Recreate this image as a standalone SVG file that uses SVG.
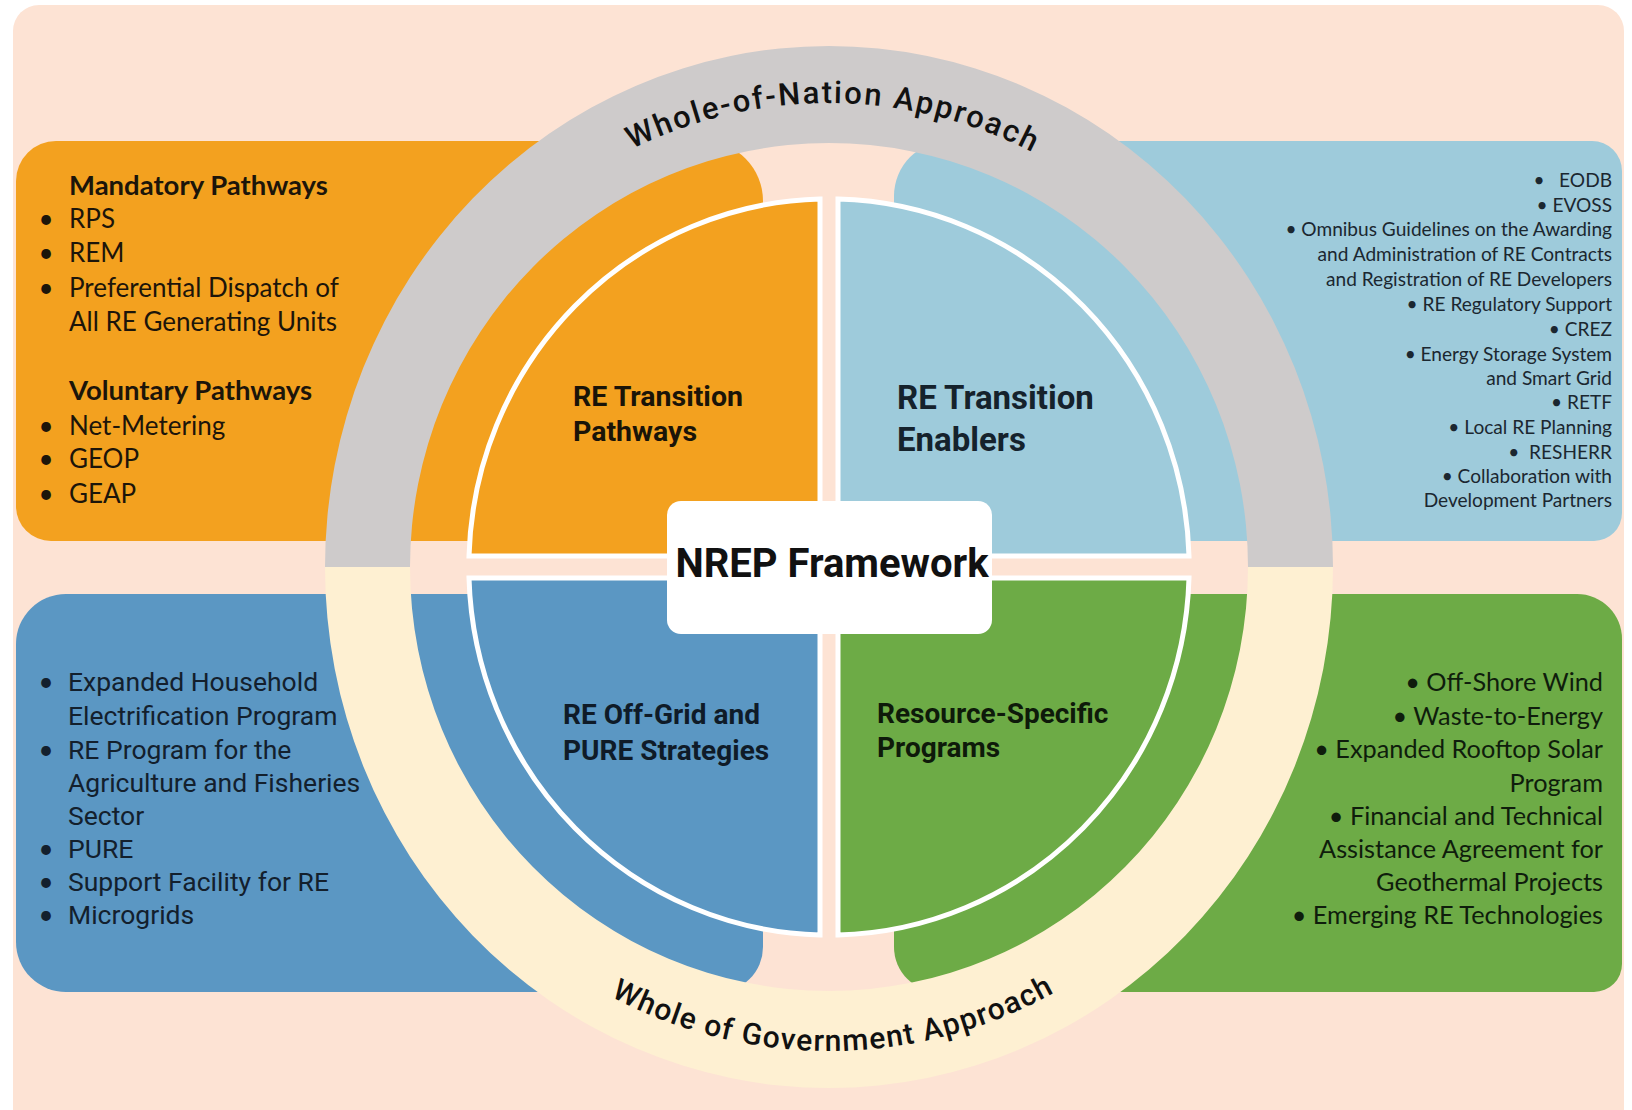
<svg xmlns="http://www.w3.org/2000/svg" width="1632" height="1110" viewBox="0 0 1632 1110">
<defs>
<style>
.bg{fill:#fde3d4}
.or{fill:#f3a11f}
.lb{fill:#9ecbdb}
.bl{fill:#5b97c3}
.gr{fill:#6dab46}
.q{stroke:#ffffff;stroke-width:5;stroke-linejoin:miter}
.ql{font-family:Roboto,"Liberation Sans",sans-serif;font-weight:700}
.ring{font-family:Roboto,"Liberation Sans",sans-serif;font-weight:500;fill:#111111}
.cal{font-family:Lato,"Liberation Sans",sans-serif}
.rob{font-family:Roboto,"Liberation Sans",sans-serif}
.bul{font-family:Lato,"Liberation Sans",sans-serif}
</style>
<path id="topArc" d="M376,567 A453,464 0 0 1 1282,567"/>
<path id="botArc" d="M356,567 A473,484 0 0 0 1302,567"/>
</defs>
<rect x="0" y="0" width="1632" height="1110" fill="#ffffff"/>
<rect class="bg" x="13" y="5" width="1611" height="1140" rx="26"/>

<g id="panel-pathways-list">
<path class="or" d="M56,141 H703 A60,60 0 0 1 763,201 V541 H51 A35,35 0 0 1 16,506 V181 A40,40 0 0 1 56,141 Z"/>
</g>
<g id="panel-enablers-list">
<path class="lb" d="M949,141 H1592 A30,30 0 0 1 1622,171 V513 A28,28 0 0 1 1594,541 H894 V196 A55,55 0 0 1 949,141 Z"/>
</g>
<g id="panel-offgrid-list">
<path class="bl" d="M66,594 H763 V947 A45,45 0 0 1 718,992 H66 A50,50 0 0 1 16,942 V644 A50,50 0 0 1 66,594 Z"/>
</g>
<g id="panel-resource-list">
<path class="gr" d="M894,594 H1577 A45,45 0 0 1 1622,639 V964 A28,28 0 0 1 1594,992 H939 A45,45 0 0 1 894,947 Z"/>
</g>

<g id="ring-nation">
<path fill="#cecbcb" d="M325,567 A504,521 0 0 1 1333,567 L1248,567 A419,424 0 0 0 410,567 Z"/>
<text class="ring" font-size="31" letter-spacing="2"><textPath href="#topArc" startOffset="50.3%" text-anchor="middle">Whole-of-Nation Approach</textPath></text>
</g>
<g id="ring-government">
<path fill="#fef0d2" d="M325,567 A504,521 0 0 0 1333,567 L1248,567 A419,424 0 0 1 410,567 Z"/>
<text class="ring" font-size="30" letter-spacing="1.3"><textPath href="#botArc" startOffset="50.3%" text-anchor="middle">Whole of Government Approach</textPath></text>
</g>

<g id="q-pathways">
<path class="or q" d="M820,556 V199 A360,368 0 0 0 469,556 Z"/>
<text class="ql" font-size="28.5" fill="#1a1408"><tspan x="573" y="406">RE Transition</tspan><tspan x="573" y="441">Pathways</tspan></text>
</g>
<g id="q-enablers">
<path class="lb q" d="M838,556 V199 A360,368 0 0 1 1189,556 Z"/>
<text class="ql" font-size="33" fill="#15222c"><tspan x="897" y="409">RE Transition</tspan><tspan x="897" y="451">Enablers</tspan></text>
</g>
<g id="q-offgrid">
<path class="bl q" d="M820,578 V935 A360,368 0 0 1 469,578 Z"/>
<text class="ql" font-size="28" fill="#0f1b28"><tspan x="563" y="724">RE Off-Grid and</tspan><tspan x="563" y="760">PURE Strategies</tspan></text>
</g>
<g id="q-resource">
<path class="gr q" d="M838,578 V935 A360,368 0 0 0 1189,578 Z"/>
<text class="ql" font-size="28" fill="#0e1a0a"><tspan x="877" y="723">Resource-Specific</tspan><tspan x="877" y="757">Programs</tspan></text>
</g>

<g id="center-nrep">
<rect x="667" y="501" width="325" height="133" rx="14" fill="#ffffff"/>
<text class="ql" font-size="40" fill="#111111" x="832" y="577" text-anchor="middle">NREP Framework</text>
</g>

<g id="text-pathways-list" class="cal" font-size="26" fill="#1c150a">
<text x="69" y="195" font-weight="700" font-size="27.5">Mandatory Pathways</text>
<text x="46" y="228" text-anchor="middle">•</text><text x="69" y="228">RPS</text>
<text x="46" y="262" text-anchor="middle">•</text><text x="69" y="262">REM</text>
<text x="46" y="297" text-anchor="middle">•</text><text x="69" y="297">Preferential Dispatch of</text>
<text x="69" y="331">All RE Generating Units</text>
<text x="69" y="400" font-weight="700" font-size="27.5">Voluntary Pathways</text>
<text x="46" y="435" text-anchor="middle">•</text><text x="69" y="435">Net-Metering</text>
<text x="46" y="468" text-anchor="middle">•</text><text x="69" y="468">GEOP</text>
<text x="46" y="503" text-anchor="middle">•</text><text x="69" y="503">GEAP</text>
</g>

<g id="text-enablers-list" class="cal" font-size="19.1" fill="#1b2730" text-anchor="end">
<text x="1612" y="187">•&#160;&#160; EODB</text>
<text x="1612" y="212">• EVOSS</text>
<text x="1612" y="236">• Omnibus Guidelines on the Awarding</text>
<text x="1612" y="261">and Administration of RE Contracts</text>
<text x="1612" y="286">and Registration of RE Developers</text>
<text x="1612" y="311">• RE Regulatory Support</text>
<text x="1612" y="336">• CREZ</text>
<text x="1612" y="361">• Energy Storage System</text>
<text x="1612" y="385">and Smart Grid</text>
<text x="1612" y="409">• RETF</text>
<text x="1612" y="434">• Local RE Planning</text>
<text x="1612" y="459">•&#160; RESHERR</text>
<text x="1612" y="483">• Collaboration with</text>
<text x="1612" y="507">Development Partners</text>
</g>

<g id="text-offgrid-list" class="rob" font-size="26.5" fill="#13202d">
<text class="bul" x="46" y="691" text-anchor="middle" font-size="26">•</text><text x="68" y="691">Expanded Household</text>
<text x="68" y="725">Electrification Program</text>
<text class="bul" x="46" y="759" text-anchor="middle" font-size="26">•</text><text x="68" y="759">RE Program for the</text>
<text x="68" y="792">Agriculture and Fisheries</text>
<text x="68" y="825">Sector</text>
<text class="bul" x="46" y="858" text-anchor="middle" font-size="26">•</text><text x="68" y="858">PURE</text>
<text class="bul" x="46" y="891" text-anchor="middle" font-size="26">•</text><text x="68" y="891">Support Facility for RE</text>
<text class="bul" x="46" y="924" text-anchor="middle" font-size="26">•</text><text x="68" y="924">Microgrids</text>
</g>

<g id="text-resource-list" class="cal" font-size="25.3" fill="#0f1d0c" text-anchor="end">
<text x="1603" y="691">• Off-Shore Wind</text>
<text x="1603" y="725">• Waste-to-Energy</text>
<text x="1603" y="758">• Expanded Rooftop Solar</text>
<text x="1603" y="792">Program</text>
<text x="1603" y="825">• Financial and Technical</text>
<text x="1603" y="858">Assistance Agreement for</text>
<text x="1603" y="891">Geothermal Projects</text>
<text x="1603" y="924">• Emerging RE Technologies</text>
</g>

<g id="connectors"></g>
</svg>
